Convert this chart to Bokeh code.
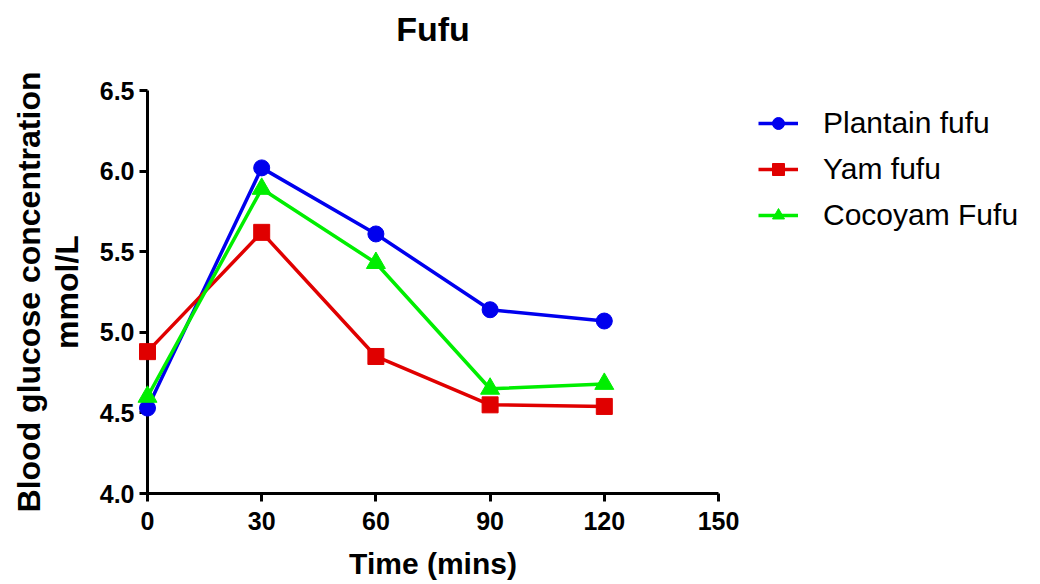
from bokeh.plotting import figure
from bokeh.models import FixedTicker, PrintfTickFormatter, Legend, LegendItem, Range1d, Title
from bokeh.embed import file_html
from bokeh.resources import INLINE

times = [0, 30, 60, 90, 120]
plantain = [4.53, 6.02, 5.61, 5.14, 5.07]
yam = [4.88, 5.62, 4.85, 4.55, 4.54]
cocoyam = [4.60, 5.89, 5.43, 4.65, 4.68]
series_names = ["Plantain fufu", "Yam fufu", "Cocoyam Fufu"]
x_ticks = [0, 30, 60, 90, 120, 150]
y_ticks = [4.0, 4.5, 5.0, 5.5, 6.0, 6.5]

FONT = "Liberation Sans"

p = figure(width=1024, height=584, frame_width=571, frame_height=403,
           min_border_left=147, min_border_right=306, min_border_top=90, min_border_bottom=91,
           x_range=Range1d(0, 150), y_range=Range1d(4.0, 6.5),
           output_backend="svg", toolbar_location=None, title="Fufu")

p.title.text_font = FONT
p.title.text_font_size = "34px"
p.title.text_font_style = "bold"
p.title.align = "center"
p.title.standoff = 0
p.title.text_color = "black"

# spacer between the title and the plot frame
spacer = Title(text=" ", text_font_size="12px", standoff=27)
p.add_layout(spacer, "above")

p.grid.visible = False
p.outline_line_color = None

for ax in (p.xaxis[0], p.yaxis[0]):
    ax.axis_line_width = 3
    ax.axis_line_color = "black"
    ax.major_tick_line_width = 3
    ax.major_tick_line_color = "black"
    ax.major_tick_out = 8
    ax.major_tick_in = 0
    ax.minor_tick_line_color = None
    ax.major_label_text_font = FONT
    ax.major_label_text_font_style = "bold"
    ax.major_label_text_font_size = "25px"
    ax.major_label_text_color = "black"
    ax.axis_label_text_font = FONT
    ax.axis_label_text_font_style = "bold"
    ax.axis_label_text_color = "black"

p.xaxis.ticker = FixedTicker(ticks=x_ticks)
p.yaxis.ticker = FixedTicker(ticks=y_ticks)
p.yaxis.formatter = PrintfTickFormatter(format="%.1f")
p.xaxis.major_label_standoff = 10
p.yaxis.major_label_standoff = 5
p.xaxis.axis_label = "Time (mins)"
p.xaxis.axis_label_text_font_size = "30px"
p.xaxis.axis_label_standoff = 14
p.yaxis.axis_label = "Blood glucose concentration\nmmol/L"
p.yaxis.axis_label_text_font_size = "32px"
p.yaxis.axis_label_text_line_height = 1.05
p.yaxis.axis_label_standoff = 12

colors = ["#0000ee", "#e00000", "#00ee00"]
data = [plantain, yam, cocoyam]
items = []
for name, vals, col, mk in zip(series_names, data, colors, ["circle", "square", "triangle"]):
    lr = p.line(times, vals, line_color=col, line_width=3.5, level="overlay")
    size = {"circle": 16, "square": 16, "triangle": 19}[mk]
    mr = p.scatter(times, vals, marker=mk, size=size, fill_color=col, line_color=col, level="overlay")
    items.append(LegendItem(label=name, renderers=[lr, mr]))

legend = Legend(items=items, location=(40, 261))
legend.label_text_font = FONT
legend.label_text_font_size = "30px"
legend.label_text_color = "black"
legend.glyph_width = 40
legend.glyph_height = 30
legend.label_height = 30
legend.spacing = 12
legend.label_standoff = 25
legend.padding = 0
legend.margin = 0
legend.border_line_color = None
legend.background_fill_alpha = 0
p.add_layout(legend, "right")

open("out.html", "w").write(file_html(p, INLINE))
